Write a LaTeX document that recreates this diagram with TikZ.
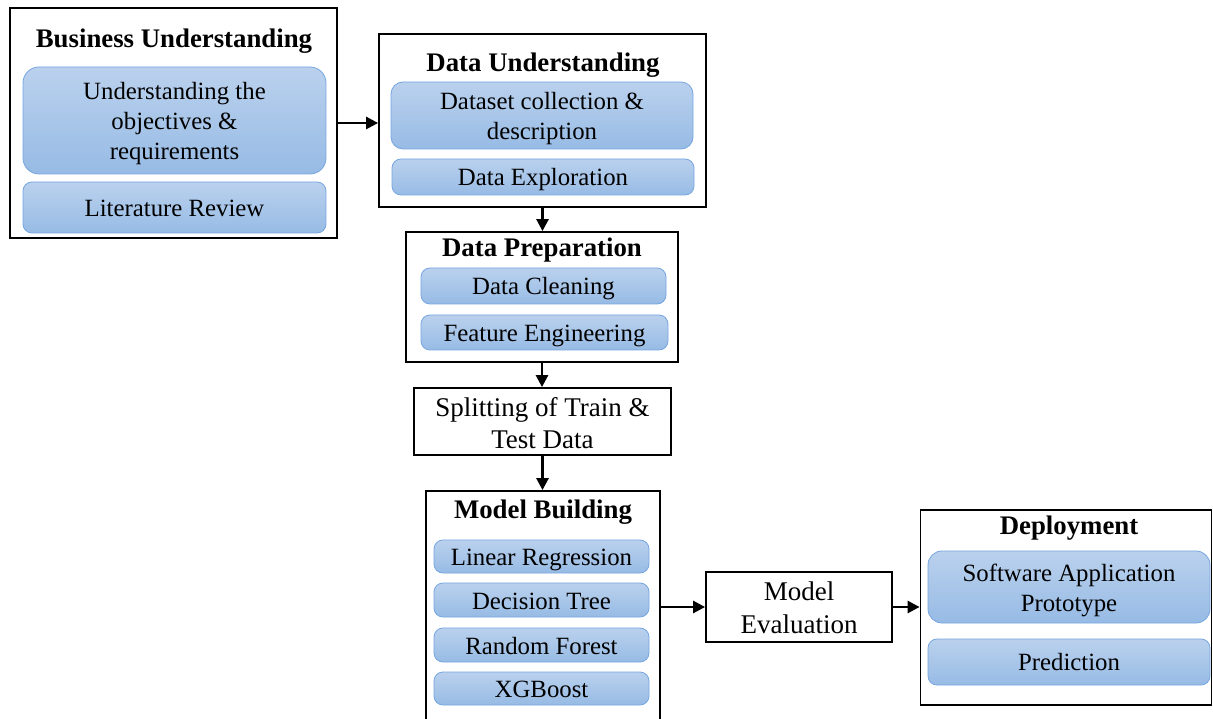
\documentclass[tikz,border=0pt]{standalone}
\usepackage{fontspec}
\setmainfont{Liberation Serif}
\usetikzlibrary{arrows.meta}
\definecolor{boxtop}{RGB}{186,209,237}
\definecolor{boxbot}{RGB}{151,187,229}
\definecolor{boxline}{RGB}{118,166,224}
% centred lines of text, set slightly below the middle of their box
\newcommand\lowlines[2][3pt]{\raisebox{-#1}[\height][\depth]{\begin{tabular}{@{}c@{}}#2\end{tabular}}}
\tikzset{
  stage/.style={draw=black, line width=1.8pt, fill=white, inner sep=0pt},
  item/.style={draw=boxline, line width=0.8pt, rounded corners=9pt,
    top color=boxtop, bottom color=boxbot, inner sep=0pt,
    font=\fontsize{24.8}{30}\selectfont},
  bigitem/.style={item, rounded corners=16pt},
  plain/.style={draw=black, line width=1.8pt, fill=white, inner sep=0pt,
    font=\fontsize{27}{32.5}\selectfont},
  title/.style={font=\fontsize{26.8}{30}\selectfont\bfseries, inner sep=0pt},
  arr/.style={line width=2.6pt, -{Triangle[length=12pt,width=12pt]}}
}
\begin{document}
\begin{tikzpicture}[x=1pt,y=-1pt]
\useasboundingbox (0,0) rectangle (1213,719);
\clip (0,0) rectangle (1213,719);

% Business Understanding
\node[stage, minimum width=327pt, minimum height=230pt] (bu) at (173.5,123) {};
\node[title] (butitle) at (174,41) {Business Understanding};
\node[bigitem, minimum width=303pt, minimum height=107pt] (bu1) at (174.5,120.5)
  {\lowlines{Understanding the\\objectives \&\\requirements}};
\node[item, minimum width=303pt, minimum height=51pt] (bu2) at (174.5,207.5) {\lowlines[3.5pt]{Literature Review}};

% Data Understanding
\node[stage, minimum width=327pt, minimum height=173pt] (du) at (542.5,120.5) {};
\node[title] (dutitle) at (543,65) {Data Understanding};
\node[bigitem, minimum width=302pt, minimum height=67pt, rounded corners=12pt] (du1) at (542,115.5)
  {\lowlines{Dataset collection \&\\description}};
\node[item, minimum width=302pt, minimum height=36pt] (du2) at (543,177) {\lowlines{Data Exploration}};

% Data Preparation
\node[stage, minimum width=272pt, minimum height=130pt] (dp) at (542,297) {};
\node[title] (dptitle) at (542,250) {Data Preparation};
\node[item, minimum width=245pt, minimum height=36pt] (dp1) at (543.5,286) {\lowlines{Data Cleaning}};
\node[item, minimum width=247pt, minimum height=35pt] (dp2) at (544.5,332.5) {\lowlines{Feature Engineering}};

% Train/test split
\node[plain, minimum width=257pt, minimum height=67pt] (split) at (542.5,421.5)
  {\lowlines[4.5pt]{Splitting of Train \&\\Test Data}};

% Model Building
\node[stage, minimum width=234pt, minimum height=250pt] (mb) at (543,616) {};
\node[title] (mbtitle) at (543,512.5) {Model Building};
\node[item, minimum width=215pt, minimum height=33pt] (mb1) at (541.5,556.5) {\lowlines{Linear Regression}};
\node[item, minimum width=215pt, minimum height=34pt] (mb2) at (541.5,600) {\lowlines{Decision Tree}};
\node[item, minimum width=215pt, minimum height=34pt] (mb3) at (541.5,645) {\lowlines{Random Forest}};
\node[item, minimum width=215pt, minimum height=33pt] (mb4) at (541.5,688.5) {\lowlines{XGBoost}};

% Model Evaluation
\node[plain, minimum width=186pt, minimum height=70pt] (eval) at (799,607)
  {\lowlines[3.5pt]{Model\\Evaluation}};

% Deployment
\node[stage, minimum width=291pt, minimum height=195pt] (dep) at (1066,607.5) {};
\node[title] (deptitle) at (1069,528) {Deployment};
\node[bigitem, minimum width=282pt, minimum height=72pt, rounded corners=14pt] (dep1) at (1069,587)
  {\lowlines{Software Application\\Prototype}};
\node[item, minimum width=282pt, minimum height=46pt] (dep2) at (1069,662) {\lowlines[2.5pt]{Prediction}};

% Flow between stages
\draw[arr] (bu.east) -- (bu.east -| du.west);
\draw[arr] (du.south) -- (du.south |- dp.north);
\draw[arr] (dp.south) -- (dp.south |- split.north);
\draw[arr] (split.south) -- (split.south |- mb.north);
\draw[arr] (mb.east |- eval.west) -- (eval.west);
\draw[arr] (eval.east) -- (eval.east -| dep.west);
\end{tikzpicture}
\end{document}
